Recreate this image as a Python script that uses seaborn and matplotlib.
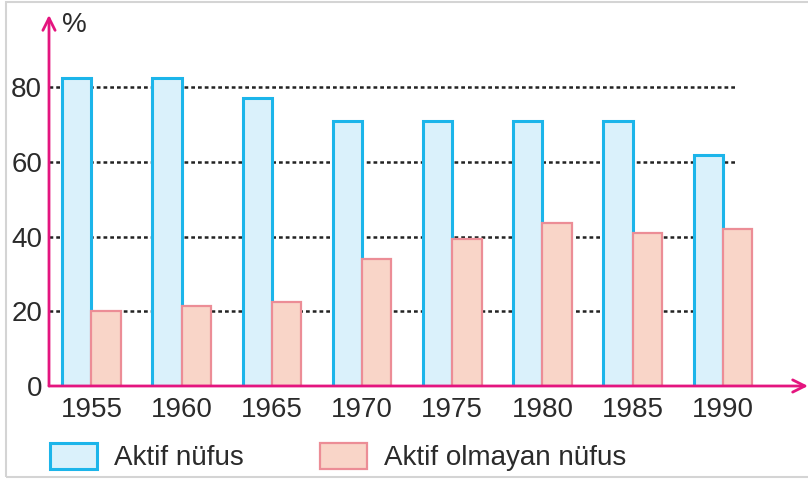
import pandas as pd
import matplotlib
matplotlib.use("Agg")
import matplotlib.pyplot as plt
from matplotlib.patches import Patch, Rectangle
import seaborn as sns

# Veriler (grafikten okunan yaklaşık değerler)
yillar = ["1955", "1960", "1965", "1970", "1975", "1980", "1985", "1990"]
aktif = [82.5, 82.5, 77.2, 71, 71, 71, 71, 62]
aktif_olmayan = [20, 21.4, 22.5, 34.1, 39.5, 43.7, 41, 42]
gruplar = ["Aktif nüfus", "Aktif olmayan nüfus"]
y_ticks = [0, 20, 40, 60, 80]

df = pd.DataFrame({
    "Yıl": yillar * 2,
    "Oran": aktif + aktif_olmayan,
    "Grup": [gruplar[0]] * len(yillar) + [gruplar[1]] * len(yillar),
})

sns.set_style("white")
plt.rcParams["font.family"] = ["Liberation Sans", "DejaVu Sans"]

mavi_dolgu, mavi_kenar = "#daf1fb", "#1cb5ea"
pembe_dolgu, pembe_kenar = "#f9d5c8", "#ec8d96"
eksen_rengi = "#e4157f"
yazi_rengi = "#2b2b2b"

fig = plt.figure(figsize=(8.08, 4.82), dpi=100)
ax = fig.add_axes([49 / 808, 1 - 386 / 482, 1 - 49 / 808, (386 - 15) / 482])

sns.barplot(data=df, x="Yıl", y="Oran", hue="Grup", hue_order=gruplar,
            palette=[mavi_dolgu, pembe_dolgu], saturation=1, width=0.65, gap=0,
            legend=False, ax=ax, zorder=2)

# Kenar renkleri
for bar in ax.containers[0]:
    bar.set_edgecolor(mavi_kenar)
    bar.set_linewidth(2.2)
for bar in ax.containers[1]:
    bar.set_edgecolor(pembe_kenar)
    bar.set_linewidth(1.6)

ax.set_xlim(-0.471, 7.944)
ax.set_ylim(0, 99.4)

# Noktalı yatay çizgiler
ax.hlines(y_ticks[1:], -0.471, 7.135, colors="#222222", linewidth=1.8,
          linestyles=(0, (1.5, 1.2)), zorder=1)

for s in ax.spines.values():
    s.set_visible(False)

# Eksen okları
ok = dict(arrowstyle="->", color=eksen_rengi, lw=2, mutation_scale=22,
          shrinkA=0, shrinkB=0)
ax.annotate("", xy=(0, 1), xytext=(0, 0), xycoords="axes fraction", arrowprops=ok)
ax.annotate("", xy=(1, 0), xytext=(0, 0), xycoords="axes fraction", arrowprops=ok)

ax.set_yticks(y_ticks)
ax.set_yticklabels([str(v) for v in y_ticks])
ax.tick_params(axis="y", length=0, pad=5, labelsize=20, labelcolor=yazi_rengi)
ax.tick_params(axis="x", length=0, pad=8, labelsize=20, labelcolor=yazi_rengi)
ax.set_xlabel("")
ax.set_ylabel("")

fig.text(62 / 808, 1 - 25 / 482, "%", fontsize=20, color=yazi_rengi, va="center")

# Lejant
handles = [
    Patch(facecolor=mavi_dolgu, edgecolor=mavi_kenar, linewidth=2.2),
    Patch(facecolor=pembe_dolgu, edgecolor=pembe_kenar, linewidth=1.6),
]
fig.legend(handles, gruplar, loc="center left", bbox_to_anchor=(50 / 808, 1 - 457 / 482),
           ncol=2, frameon=False, fontsize=20, handlelength=1.7, handleheight=1.1,
           handletextpad=0.6, columnspacing=2.75, borderpad=0, borderaxespad=0,
           labelcolor=yazi_rengi)

# Çerçeve
fig.patches.append(Rectangle((6 / 808, 1 - 477 / 482), 1.0, (477 - 2) / 482,
                             transform=fig.transFigure, fill=False,
                             edgecolor="#d4d4d4", linewidth=1.5))

fig.savefig("out.png", dpi=100)
